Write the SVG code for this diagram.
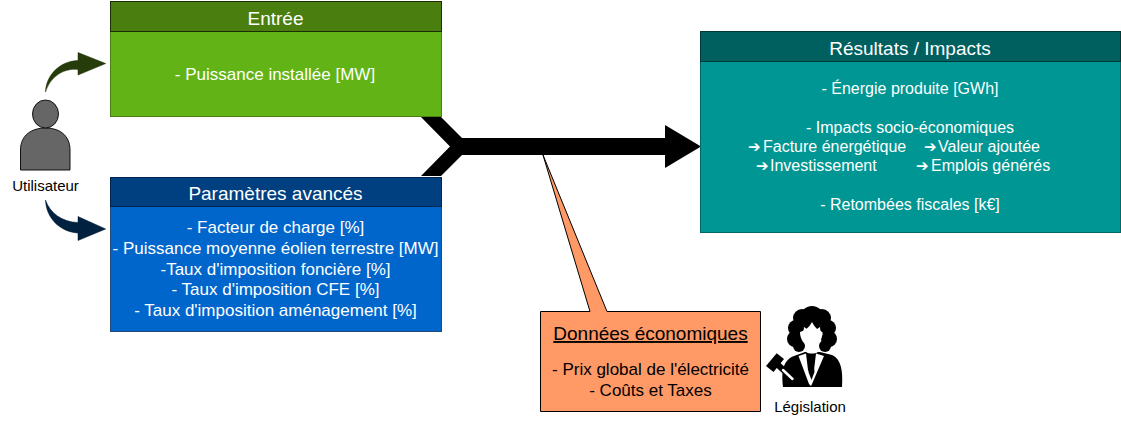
<svg xmlns="http://www.w3.org/2000/svg" width="1121" height="421" viewBox="0 0 1121 421">
<style>
text{font-family:"Liberation Sans",Arial,sans-serif;fill:#fff;text-anchor:middle}
.h{font-size:19px}
.b{font-size:17px}
.r{font-size:16px}
.d{fill:#000}
.s{font-size:15px;fill:#000}
.a{text-anchor:start}
.ar{font-family:"DejaVu Sans",sans-serif;font-size:15px}
</style>
<rect width="1121" height="421" fill="#fff"/>
<g id="connectors">
<path d="M421,117H441L462,138H665V125L701,146.500L665,168V155H462L441,176H421L450,146.500Z" fill="#000"/>
<path d="M45.500,92C46,75 60,61 78,60.500V52.500L105.700,63.500L78,75V69.500C62,68 50,78 45.500,92Z" fill="#273c0b" stroke="#1d2d09" stroke-width="0.500"/>
<path d="M45.500,200C50,213 62,222 78,222.500V216.500L105.700,229L78,240.500V233C60,232 46,218 45.500,200Z" fill="#00213f" stroke="#001a33" stroke-width="0.500"/>
</g>
<g id="entree">
<rect x="110.500" y="31.500" width="331" height="85" fill="#62b416" stroke="#4d7f17"/>
<rect x="110.500" y="1.500" width="331" height="30" fill="#4a7f10" stroke="#1a2d05" stroke-width="1"/>
<text class="h" x="275.500" y="25">Entrée</text>
<text class="b" x="275" y="80">- Puissance installée [MW]</text>
</g>
<g id="parametres">
<rect x="110.500" y="206.500" width="331" height="125" fill="#0066cc" stroke="#1f4a7a"/>
<rect x="110.500" y="177.500" width="331" height="29" fill="#004080" stroke="#00264d"/>
<text class="h" x="275.500" y="200">Paramètres avancés</text>
<text class="b" x="275.500" y="233">- Facteur de charge [%]</text>
<text class="b" x="275.500" y="254">- Puissance moyenne éolien terrestre [MW]</text>
<text class="b" x="275.500" y="275">-Taux d'imposition foncière [%]</text>
<text class="b" x="275.500" y="295">- Taux d'imposition CFE [%]</text>
<text class="b" x="275.500" y="316">- Taux d'imposition aménagement [%]</text>
</g>
<g id="resultats">
<rect x="700.500" y="61.500" width="420" height="171" fill="#009693" stroke="#006666"/>
<rect x="700.500" y="31.500" width="420" height="30" fill="#006060" stroke="#003838"/>
<text class="h" x="910" y="55">Résultats / Impacts</text>
<text class="r" x="910" y="94">- Énergie produite [GWh]</text>
<text class="r" x="910" y="133">- Impacts socio-économiques</text>
<text class="ar a" x="748" y="152">➔</text><text class="r a" x="763" y="152">Facture énergétique</text>
<text class="ar a" x="924" y="152">➔</text><text class="r a" x="938" y="152">Valeur ajoutée</text>
<text class="ar a" x="756" y="171">➔</text><text class="r a" x="770" y="171">Investissement</text>
<text class="ar a" x="916" y="171">➔</text><text class="r a" x="931" y="171">Emplois générés</text>
<text class="r" x="910" y="210">- Retombées fiscales [k€]</text>
</g>
<g id="donnees">
<path d="M540.500,311.500H590L543,155L607,311.500H760.500V411.500H540.500Z" fill="#ff9966" stroke="#000" stroke-width="1"/>
<text class="h d" x="650.500" y="340" text-decoration="underline">Données économiques</text>
<text class="b d" x="650.500" y="375">- Prix global de l'électricité</text>
<text class="b d" x="650.500" y="396">- Coûts et Taxes</text>
</g>
<g id="utilisateur">
<path d="M20.500,170V150C20.500,135 32,128 45.500,128C59,128 70,135 70,150V170Z" fill="#666" stroke="#111"/>
<ellipse cx="45.500" cy="114" rx="13" ry="14" fill="#666" stroke="#111"/>
<text class="s" x="45.500" y="191">Utilisateur</text>
</g>
<g id="legislation">
<path d="M783,387C781,372 783,360 794,356L805,352H820L832,355C841,359 843,370 842,387Z" fill="#000"/>
<g fill="#000">
<circle cx="812" cy="318" r="12"/>
<circle cx="802" cy="318" r="9"/>
<circle cx="822" cy="318" r="9"/>
<circle cx="796" cy="328" r="8"/>
<circle cx="828" cy="328" r="8"/>
<circle cx="795" cy="339" r="8"/>
<circle cx="829" cy="339" r="8"/>
<circle cx="799" cy="346" r="6"/>
<circle cx="825" cy="346" r="6"/>
</g>
<path d="M812,322C815,328 819,331 822.500,332C822.500,340 818,346 811.500,346C805,346 800,340 800,332C804,331 809,328 812,322Z" fill="#fff"/>
<path d="M805,348.500C809,351 815,351 819,348.500L818,352C815,354 809,354 806,352Z" fill="#fff"/>
<path d="M798.500,356L806,353.500L808,370L811,375L814,370L816,353.500L824,356L812,384L811,386L809,384Z" fill="#fff"/>
<path d="M809.500,354H814L813,358L814.500,372L811.500,380L808.500,372L810.500,358Z" fill="#000"/>
<path d="M766,366L776.700,353.300L784,359L773.500,372Z" fill="#000"/>
<path d="M777,364L793,379" stroke="#000" stroke-width="6" stroke-linecap="round"/>
<path d="M783,370L792.500,379" stroke="#fff" stroke-width="2.500" stroke-linecap="round"/>
<text class="s" x="810" y="412">Législation</text>
</g>
</svg>
